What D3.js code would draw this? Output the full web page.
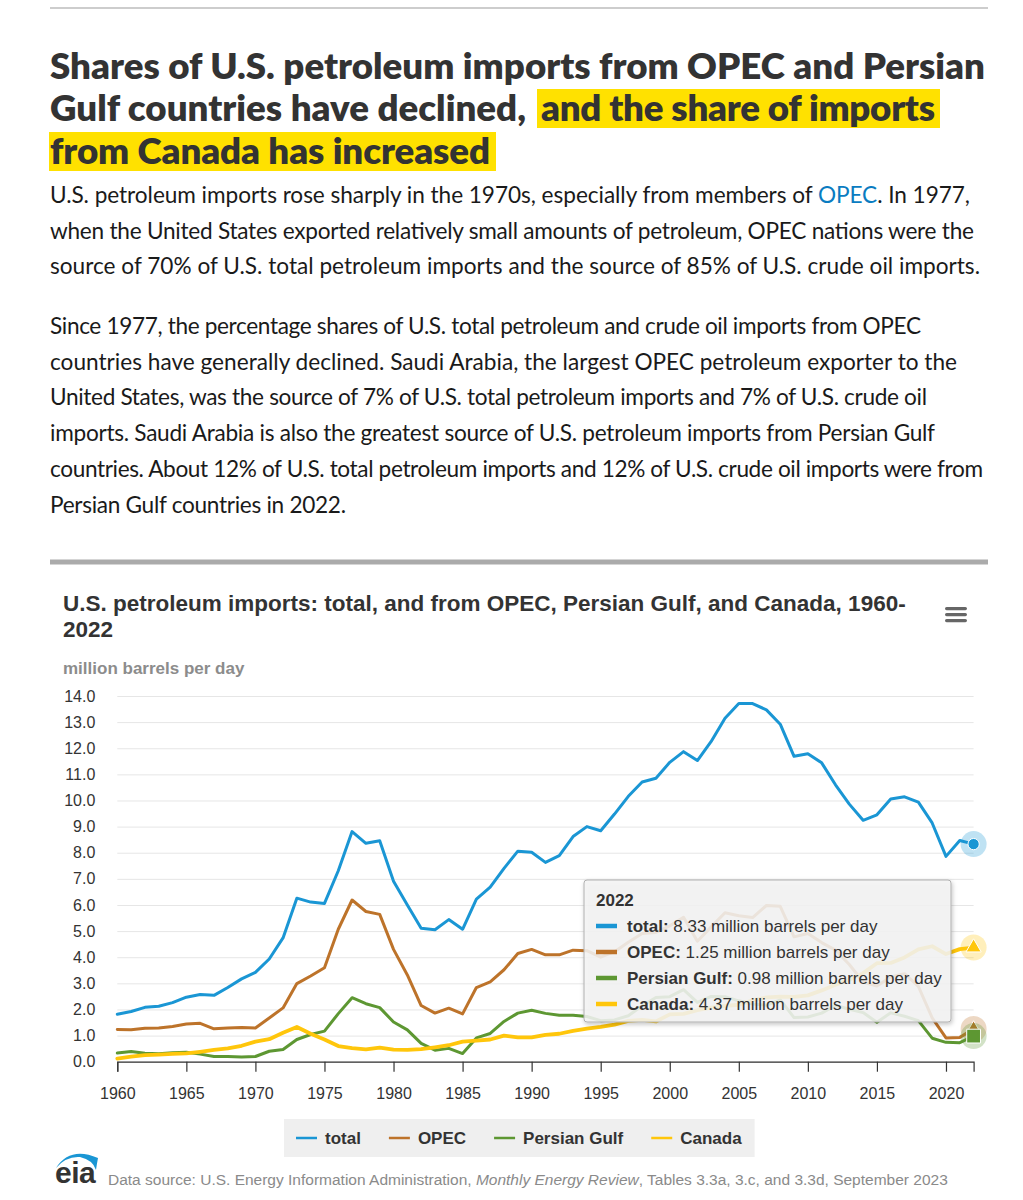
<!DOCTYPE html>
<html>
<head>
<meta charset="utf-8">
<script src="https://cdn.jsdelivr.net/npm/d3@7"></script>
<style>
  body { margin: 0; background: #fff; }
</style>
</head>
<body>
<div id="page"></div>
<script>
// ---- data (million barrels per day) ----
const years = d3.range(1960, 2023);
const total = [1.82,1.92,2.08,2.12,2.26,2.47,2.57,2.54,2.84,3.17,3.42,3.93,4.74,6.26,6.11,6.06,7.31,8.81,8.36,8.46,
  6.91,6.00,5.11,5.05,5.44,5.07,6.22,6.68,7.40,8.06,8.02,7.63,7.89,8.62,9.00,8.84,9.48,10.16,10.71,10.85,
  11.46,11.87,11.53,12.26,13.15,13.71,13.71,13.47,12.92,11.69,11.79,11.44,10.60,9.86,9.24,9.45,10.06,10.14,9.94,9.14,
  7.86,8.47,8.33];
const opec = [1.23,1.22,1.28,1.29,1.35,1.44,1.47,1.26,1.29,1.31,1.29,1.67,2.06,2.99,3.28,3.60,5.07,6.19,5.75,5.64,
  4.30,3.32,2.15,1.86,2.05,1.83,2.84,3.06,3.52,4.14,4.30,4.09,4.09,4.27,4.25,4.00,4.21,4.57,4.91,4.95,
  5.20,5.53,4.61,5.16,5.70,5.59,5.52,5.98,5.95,4.78,4.91,4.56,4.27,3.72,3.05,2.90,3.24,3.37,2.88,1.68,
  0.91,0.93,1.25];
const persianGulf = [0.33,0.39,0.32,0.30,0.34,0.36,0.29,0.20,0.20,0.18,0.20,0.40,0.47,0.85,1.04,1.17,1.84,2.45,2.22,2.07,
  1.52,1.22,0.70,0.44,0.51,0.31,0.91,1.08,1.54,1.86,1.97,1.85,1.78,1.78,1.73,1.57,1.60,1.76,2.14,2.46,
  2.49,2.76,2.27,2.50,2.49,2.33,2.21,2.16,2.37,1.69,1.71,1.86,2.16,2.01,1.88,1.51,1.87,1.74,1.57,0.90,
  0.74,0.73,0.98];
const canada = [0.12,0.19,0.25,0.27,0.30,0.32,0.38,0.45,0.51,0.61,0.77,0.86,1.11,1.33,1.07,0.85,0.60,0.52,0.47,0.54,
  0.46,0.45,0.48,0.55,0.63,0.77,0.81,0.85,1.00,0.93,0.93,1.03,1.07,1.18,1.27,1.33,1.42,1.56,1.60,1.54,
  1.81,1.83,1.97,2.07,2.14,2.18,2.35,2.46,2.49,2.48,2.54,2.73,2.95,3.14,3.39,3.77,3.78,3.99,4.30,4.42,
  4.12,4.31,4.37];

const seriesNames = ["total", "OPEC", "Persian Gulf", "Canada"];
const seriesColors = ["#1a96d4", "#bd732a", "#5d9732", "#ffc60b"];
const xTicks = [1960,1965,1970,1975,1980,1985,1990,1995,2000,2005,2010,2015,2020];
const yTicks = [0,1,2,3,4,5,6,7,8,9,10,11,12,13,14];

const headline = ["Shares of U.S. petroleum imports from OPEC and Persian",
  "Gulf countries have declined,", "and the share of imports", "from Canada has increased"];
const para1 = [
  ["U.S. petroleum imports rose sharply in the 1970s, especially from members of ", "OPEC", ". In 1977,"],
  ["when the United States exported relatively small amounts of petroleum, OPEC nations were the"],
  ["source of 70% of U.S. total petroleum imports and the source of 85% of U.S. crude oil imports."]];
const para2 = [
  "Since 1977, the percentage shares of U.S. total petroleum and crude oil imports from OPEC",
  "countries have generally declined. Saudi Arabia, the largest OPEC petroleum exporter to the",
  "United States, was the source of 7% of U.S. total petroleum imports and 7% of U.S. crude oil",
  "imports. Saudi Arabia is also the greatest source of U.S. petroleum imports from Persian Gulf",
  "countries. About 12% of U.S. total petroleum imports and 12% of U.S. crude oil imports were from",
  "Persian Gulf countries in 2022."];
const chartTitle = ["U.S. petroleum imports: total, and from OPEC, Persian Gulf, and Canada, 1960-", "2022"];
const sourceParts = ["Data source: U.S. Energy Information Administration, ", "Monthly Energy Review",
  ", Tables 3.3a, 3.c, and 3.3d, September 2023"];

const series = seriesNames.map((name, i) => ({
  name, color: seriesColors[i],
  values: [total, opec, persianGulf, canada][i].map((v, j) => ({year: years[j], value: v}))
}));

// ---- page ----
const W = 1023, H = 1200;
const svg = d3.select("#page").append("svg")
  .attr("width", W).attr("height", H)
  .attr("viewBox", `0 0 ${W} ${H}`);

const defs = svg.append("defs");
const shadow = defs.append("filter").attr("id", "shadow")
  .attr("x", "-10%").attr("y", "-10%").attr("width", "130%").attr("height", "140%");
shadow.append("feDropShadow").attr("dx", 1).attr("dy", 2).attr("stdDeviation", 2)
  .attr("flood-color", "#000").attr("flood-opacity", 0.25);

// scale a text's font so it spans the wanted width
function fitSize(family, weight, str, target, base) {
  const t = svg.append("text").attr("font-family", family).attr("font-weight", weight)
    .attr("font-size", base).text(str);
  const w = t.node().getComputedTextLength();
  t.remove();
  return base * target / w;
}

svg.append("line").attr("x1", 50).attr("x2", 988).attr("y1", 8).attr("y2", 8)
  .attr("stroke", "#bdbdbd").attr("stroke-width", 1.5);

// headline (line widths as set in the original page)
const headFont = "Lato, 'Open Sans', sans-serif";
const headSize = fitSize(headFont, 800, headline[0], 935, 34);
const headSpans = [[50, 79, 935], [50, 121, 476], [541, 121, 394], [50, 164, 440]];
svg.append("rect").attr("x", 537).attr("y", 89).attr("width", 403).attr("height", 39).attr("fill", "#ffe100");
svg.append("rect").attr("x", 49).attr("y", 132).attr("width", 447).attr("height", 39).attr("fill", "#ffe100");
const head = svg.append("g").attr("font-family", headFont).attr("font-weight", 800)
  .attr("font-size", headSize).attr("fill", "#333");
headline.forEach((s, i) => {
  head.append("text").attr("x", headSpans[i][0]).attr("y", headSpans[i][1])
    .attr("textLength", headSpans[i][2]).attr("lengthAdjust", "spacing").text(s);
});

// paragraphs
const bodyFont = "Lato, 'Open Sans', sans-serif";
const bodySize = fitSize(bodyFont, 400, para1[2].join(""), 930, 20);
const p1Widths = [920, 924, 930];
const p2Widths = [871, 907, 877, 885, 933, 296];
const body = svg.append("g").attr("font-family", bodyFont).attr("font-size", bodySize).attr("fill", "#1a1a1a");
para1.forEach((parts, i) => {
  const t = body.append("text").attr("x", 50).attr("y", 203 + i * 35.5)
    .attr("textLength", p1Widths[i]).attr("lengthAdjust", "spacing");
  parts.forEach(p => t.append("tspan").attr("fill", p === "OPEC" ? "#0a7cc1" : null).text(p));
});
para2.forEach((line, i) => {
  body.append("text").attr("x", 50).attr("y", 334 + i * 35.7)
    .attr("textLength", p2Widths[i]).attr("lengthAdjust", "spacing").text(line);
});

svg.append("line").attr("x1", 50).attr("x2", 988).attr("y1", 562).attr("y2", 562)
  .attr("stroke", "#ababab").attr("stroke-width", 5);

// ---- chart ----
const chartFont = "'Liberation Sans', Arial, sans-serif";
const chart = svg.append("g").attr("font-family", chartFont);

chart.selectAll("text.title").data(chartTitle).join("text").attr("class", "title")
  .attr("x", 63).attr("y", (d, i) => 611 + i * 26)
  .attr("font-size", 22.5).attr("font-weight", "bold").attr("fill", "#333").text(d => d);

// menu icon
chart.selectAll("rect.menu").data([0, 1, 2]).join("rect").attr("class", "menu")
  .attr("x", 945).attr("y", d => 607 + d * 6).attr("width", 22).attr("height", 3.2)
  .attr("rx", 1.6).attr("fill", "#666");

chart.append("text").attr("x", 63).attr("y", 674).attr("font-size", 17).attr("font-weight", "bold")
  .attr("fill", "#8c8c8c").text("million barrels per day");

const x = d3.scaleLinear().domain([1960, 2022]).range([117.3, 973.6]);
const y = d3.scaleLinear().domain([0, 14]).range([1061.7, 696]);

// grid
chart.append("g").attr("transform", `translate(${x.range()[0]},0)`)
  .call(d3.axisLeft(y).tickValues(yTicks).tickSize(-(x.range()[1] - x.range()[0])).tickFormat(""))
  .call(g => g.select(".domain").remove())
  .call(g => g.selectAll("line").attr("stroke", "#e6e6e6"));

// y labels
chart.append("g").attr("transform", `translate(${x.range()[0]},0)`)
  .call(d3.axisLeft(y).tickValues(yTicks).tickSize(0).tickPadding(22).tickFormat(d3.format(".1f")))
  .call(g => g.select(".domain").remove())
  .call(g => g.selectAll("text").attr("font-family", chartFont).attr("font-size", 16).attr("fill", "#333"));

// x axis
chart.append("g").attr("transform", `translate(0,${y(0)})`)
  .call(d3.axisBottom(x).tickValues(xTicks).tickSize(10).tickPadding(16).tickFormat(d3.format("d")))
  .call(g => g.select(".domain").attr("stroke", "#333").attr("stroke-width", 1.2))
  .call(g => g.selectAll("line").attr("stroke", "#333").attr("stroke-width", 1.2))
  .call(g => g.selectAll("text").attr("font-family", chartFont).attr("font-size", 16).attr("fill", "#333"));

// lines
const line = d3.line().x(d => x(d.year)).y(d => y(d.value));
chart.append("g").selectAll("path").data(series).join("path")
  .attr("d", d => line(d.values))
  .attr("fill", "none").attr("stroke", d => d.color)
  .attr("stroke-width", d => d.name === "Canada" ? 3.8 : 3)
  .attr("stroke-linejoin", "round").attr("stroke-linecap", "round");

// hover markers at 2022
const lastYear = years[years.length - 1];
const markerShapes = [d3.symbolCircle, d3.symbolTriangle, d3.symbolSquare, d3.symbolTriangle];
const markerSizes = [100, 90, 190, 100];
const markerOrder = [1, 2, 0, 3];
const markers = chart.append("g").selectAll("g").data(markerOrder.map(i => series[i])).join("g")
  .attr("transform", d => `translate(${x(lastYear)},${y(d.values[d.values.length - 1].value)})`);
markers.append("circle").attr("r", 13).attr("fill", d => d.color).attr("fill-opacity", 0.28);
markers.append("path")
  .attr("d", d => d3.symbol(markerShapes[seriesNames.indexOf(d.name)], markerSizes[seriesNames.indexOf(d.name)])())
  .attr("fill", d => d.color).attr("stroke", "#fff").attr("stroke-width", 1);

// tooltip
const tip = chart.append("g").attr("transform", "translate(584,880)");
tip.append("rect").attr("width", 367).attr("height", 142).attr("rx", 3)
  .attr("fill", "#f5f5f5").attr("fill-opacity", 0.86)
  .attr("stroke", "#b0b0b0").attr("stroke-width", 1).attr("filter", "url(#shadow)");
tip.append("text").attr("x", 12).attr("y", 26).attr("font-size", 17).attr("font-weight", "bold")
  .attr("fill", "#333").text(lastYear);
const rows = tip.selectAll("g.row").data(series).join("g").attr("class", "row")
  .attr("transform", (d, i) => `translate(0,${52 + i * 26})`);
rows.append("line").attr("x1", 12).attr("x2", 33).attr("y1", -6).attr("y2", -6)
  .attr("stroke", d => d.color).attr("stroke-width", 4.5);
const rt = rows.append("text").attr("x", 43).attr("font-size", 17).attr("fill", "#333");
rt.append("tspan").attr("font-weight", "bold").text(d => d.name + ": ");
rt.append("tspan").text(d => d3.format(".2f")(d.values[d.values.length - 1].value) + " million barrels per day");

// legend
const legend = chart.append("g");
const legBox = legend.append("rect").attr("y", 1119).attr("height", 38).attr("fill", "#efefef");
let lx = 296;
series.forEach(s => {
  legend.append("line").attr("x1", lx).attr("x2", lx + 21).attr("y1", 1138).attr("y2", 1138)
    .attr("stroke", s.color).attr("stroke-width", 2.5);
  const t = legend.append("text").attr("x", lx + 29).attr("y", 1144).attr("font-size", 17)
    .attr("font-weight", "bold").attr("fill", "#333").text(s.name);
  lx += 29 + t.node().getComputedTextLength() + 28;
});
legBox.attr("x", 284).attr("width", lx - 28 + 13 - 284);

// footer
const logo = svg.append("g");
logo.append("path").attr("d", "M56,1168 Q70,1146 98,1158 Q97,1163 96,1170 Q93,1160 80,1157 Q66,1156 56,1168 Z")
  .attr("fill", "#1a96d4");
logo.append("text").attr("x", 55).attr("y", 1183).attr("font-family", chartFont).attr("font-weight", "bold")
  .attr("font-size", 30).attr("fill", "#333").attr("letter-spacing", -0.5).text("eia");
const src = svg.append("text").attr("x", 108).attr("y", 1185).attr("font-family", chartFont)
  .attr("font-size", 15.5).attr("fill", "#8a8a8a");
sourceParts.forEach((p, i) => src.append("tspan").attr("font-style", i === 1 ? "italic" : null).text(p));
</script>
</body>
</html>
